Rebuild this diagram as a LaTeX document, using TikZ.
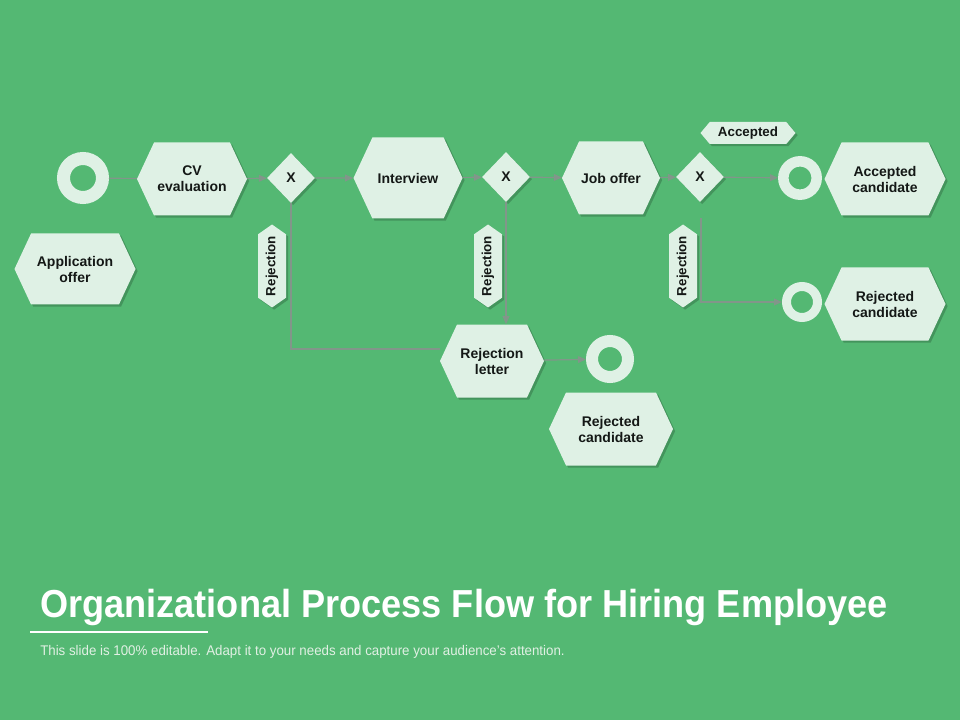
\documentclass[tikz,border=0pt]{standalone}
\usepackage{fontspec}
\setmainfont{Liberation Sans}
\newfontfamily\titlefont[FakeStretch=0.925]{Liberation Sans}
\newfontfamily\subfont[FakeStretch=0.95]{Liberation Sans}
\usetikzlibrary{shapes.symbols,shapes.geometric,arrows.meta,shadows,calc}
\definecolor{bg}{RGB}{84,184,115}
\definecolor{mint}{RGB}{223,241,229}
\definecolor{txt}{RGB}{20,24,22}
\definecolor{lineC}{RGB}{130,150,138}
\definecolor{subC}{RGB}{225,240,228}
\tikzset{
  shad/.style={drop shadow={shadow xshift=1.6pt,shadow yshift=-1.6pt,opacity=0.28,fill=black!70!bg}},
  hexa/.style={signal, signal to=east and west, signal pointer angle=130, fill=mint, draw=none,
    text=txt, font=\bfseries\fontsize{10.5}{12}\selectfont, align=center, inner sep=0pt, shad},
  tag/.style={signal, signal to=east and west, signal pointer angle=110, fill=mint, draw=none,
    text=txt, font=\bfseries\fontsize{10}{11}\selectfont, inner sep=0pt, shad},
  gate/.style={diamond, fill=mint, draw=none, text=txt, font=\bfseries\fontsize{10.5}{12}\selectfont,
    inner sep=0pt, minimum width=36pt, minimum height=37.5pt, shad},
  ring/.style={circle, draw=mint, fill=none, inner sep=0pt},
  conn/.style={draw=lineC, line width=0.9pt, -{Triangle[length=6pt,width=5pt]}},
  plain/.style={draw=lineC, line width=0.9pt},
}
\begin{document}
\begin{tikzpicture}[x=0.75pt,y=-0.75pt]
\fill[bg] (0,0) rectangle (960,720);
\useasboundingbox (0,0) rectangle (960,720);

% rings
\node[ring, minimum size=29.25pt, line width=9.75pt] (start) at (83,178) {};
\node[ring, minimum size=25pt, line width=7.9pt] (accring) at (800,178) {};
\node[ring, minimum size=23.25pt, line width=6.75pt] (rejring) at (802,302) {};
\node[ring, minimum size=27pt, line width=9pt] (botring) at (610,359) {};

% hexagons
\node[hexa, minimum width=82.5pt, minimum height=54.75pt] (cv) at (192,179) {CV\\evaluation};
\node[hexa, minimum width=90.75pt, minimum height=53.25pt] (app) at (75,269) {Application\\offer};
\node[hexa, minimum width=81.75pt, minimum height=60.75pt] (int) at (408,178) {Interview};
\node[hexa, minimum width=73.5pt, minimum height=54.75pt] (job) at (611,178) {Job offer};
\node[hexa, minimum width=90.75pt, minimum height=54.75pt] (acc) at (885,179) {Accepted\\candidate};
\node[hexa, minimum width=90.75pt, minimum height=54.75pt] (rejc) at (885,304) {Rejected\\candidate};
\node[hexa, minimum width=78pt, minimum height=54.75pt] (rl) at (492,361) {Rejection\\letter};
\node[hexa, minimum width=93pt, minimum height=54.75pt] (rejb) at (611,429) {Rejected\\candidate};

% gates
\node[gate] (x1) at (291,178) {X};
\node[gate] (x2) at (506,177) {X};
\node[gate] (x3) at (700,177) {X};

% tags
\node[tag, minimum width=71.25pt, minimum height=16.5pt, signal pointer angle=100] (acct) at (748,133) {Accepted};
\node[tag, rotate=90, minimum width=62.25pt, minimum height=21pt] (r1) at (272,266) {Rejection};
\node[tag, rotate=90, minimum width=62.25pt, minimum height=21pt] (r2) at (488,266) {Rejection};
\node[tag, rotate=90, minimum width=62.25pt, minimum height=21pt] (r3) at (683,266) {Rejection};

% connectors
\draw[plain] (start) -- (cv);
\draw[conn] (cv) -- (x1);
\draw[conn] (x1) -- (int);
\draw[conn] (int) -- (x2);
\draw[conn] (x2) -- (job);
\draw[conn] (job) -- (x3);
\draw[conn] (x3) -- (accring);
\draw[plain] (x1.south) |- ($(rl.west)+(0,-12)$);
\draw[conn] (x2.south) -- (x2.south |- rl.north);
\draw[conn] (rl) -- (botring);
\draw[conn] ($(x3.south)+(1,16)$) |- (rejring);

% title
\node[anchor=base west, inner sep=0pt, text=white, font=\titlefont\bfseries\fontsize{29.3}{32}\selectfont] (title) at (40,617) {Organizational Process Flow for Hiring Employee};
\draw[white, line width=0.8pt] (30,632) -- (208,632);
\node[anchor=base west, inner sep=0pt, text=subC, font=\subfont\fontsize{10.5}{12}\selectfont] (sub) at (40,655) {This slide is 100\% editable. Adapt it to your needs and capture your audience’s attention.};
\end{tikzpicture}
\end{document}
